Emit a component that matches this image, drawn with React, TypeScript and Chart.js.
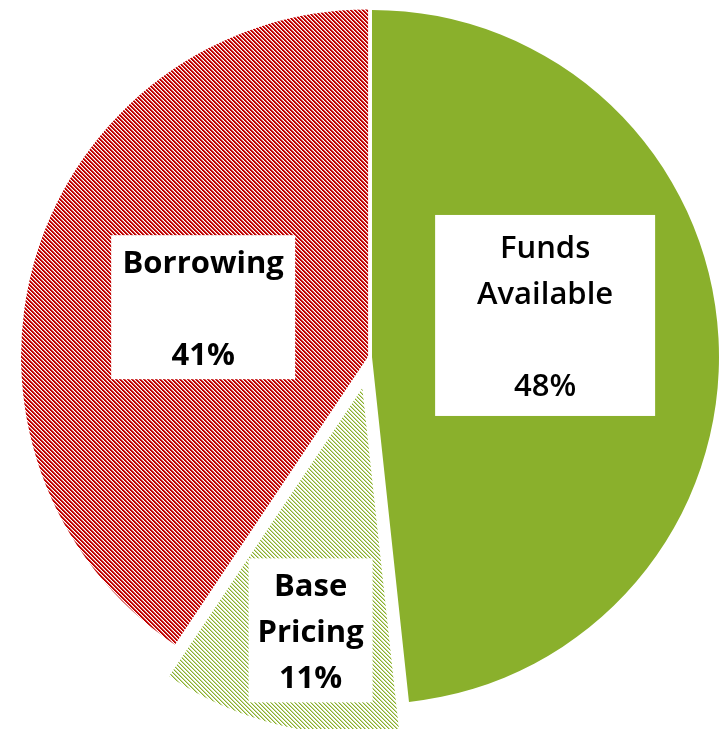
import React, { useEffect, useRef } from "react";
import { Chart, registerables } from "chart.js";

Chart.register(...registerables);

// ---- data ----
const categories: string[] = ["Funds Available", "Base Pricing", "Borrowing"];
const values: number[] = [48.3, 11.1, 40.6];
const categoryLines: string[][] = [["Funds", "Available"], ["Base", "Pricing"], ["Borrowing"]];

// ---- styles / layout ----
const GREEN = "#8AB02C";
const RED = "#C00000";
const sliceExplode = [2, 32, 2]; // px the slice is pulled out along its mid-angle
const labelLayout = [
  { dist: 0.513, turn: -10.4, w: 220, h: 201, blank: true, weight: 600 },
  { dist: 0.714, turn: -1.8, w: 124, h: 144, blank: false, weight: 700 },
  { dist: 0.496, turn: -0.3, w: 184, h: 144, blank: true, weight: 700 },
];
const LABEL_FAMILY = "31px 'Open Sans', Lato, sans-serif";
const LINE_H = 46;
const TEXT_NUDGE = 3;

function stripePattern(ctx: CanvasRenderingContext2D, color: string, edge: string, full: number) {
  const period = 4;
  const c = document.createElement("canvas");
  c.width = period;
  c.height = period;
  const g = c.getContext("2d")!;
  g.fillStyle = "#ffffff";
  g.fillRect(0, 0, period, period);
  for (let y = 0; y < period; y++) {
    for (let x = 0; x < period; x++) {
      const k = (((x - y) % period) + period) % period;
      if (k < full) {
        g.fillStyle = color;
        g.fillRect(x, y, 1, 1);
      } else if (k === full) {
        g.fillStyle = edge;
        g.fillRect(x, y, 1, 1);
      }
    }
  }
  return ctx.createPattern(c, "repeat")!;
}

const explodePlugin = {
  id: "explode",
  afterDatasetsUpdate(chart: any) {
    const meta = chart.getDatasetMeta(0);
    meta.data.forEach((arc: any, i: number) => {
      const mid = (arc.startAngle + arc.endAngle) / 2;
      arc.x += Math.cos(mid) * sliceExplode[i];
      arc.y += Math.sin(mid) * sliceExplode[i];
    });
  },
};

const labelPlugin = {
  id: "boxLabels",
  afterDatasetsDraw(chart: any) {
    const ctx: CanvasRenderingContext2D = chart.ctx;
    const meta = chart.getDatasetMeta(0);
    const total = values.reduce((a, b) => a + b, 0);
    meta.data.forEach((arc: any, i: number) => {
      const p = arc.getProps(["x", "y", "startAngle", "endAngle", "outerRadius"], true);
      const L = labelLayout[i];
      const mid = (p.startAngle + p.endAngle) / 2 + (L.turn * Math.PI) / 180;
      const cx = p.x + Math.cos(mid) * p.outerRadius * L.dist;
      const cy = p.y + Math.sin(mid) * p.outerRadius * L.dist;
      const pct = Math.round((values[i] / total) * 100) + "%";
      const lines = [...categoryLines[i], ...(L.blank ? [""] : []), pct];
      ctx.save();
      ctx.fillStyle = "#ffffff";
      ctx.fillRect(cx - L.w / 2, cy - L.h / 2, L.w, L.h);
      ctx.fillStyle = "#000000";
      ctx.font = `${L.weight} ${LABEL_FAMILY}`;
      ctx.textAlign = "center";
      ctx.textBaseline = "middle";
      const top = cy - (lines.length * LINE_H) / 2 + LINE_H / 2 + TEXT_NUDGE;
      lines.forEach((t, j) => {
        if (t) ctx.fillText(t, cx, top + j * LINE_H);
      });
      ctx.restore();
    });
  },
};

export default function App() {
  const ref = useRef<HTMLCanvasElement | null>(null);
  useEffect(() => {
    document.body.style.margin = "0";
    const canvas = ref.current!;
    const ctx = canvas.getContext("2d")!;
    const greenStripes = stripePattern(ctx, GREEN, "#C8DA9C", 1);
    const redStripes = stripePattern(ctx, RED, "#E08080", 2);
    const chart = new Chart(canvas, {
      type: "pie",
      data: {
        labels: categories,
        datasets: [
          {
            data: values,
            backgroundColor: [GREEN, greenStripes, redStripes],
            borderWidth: 0,
            radius: 347,
          } as any,
        ],
      },
      options: {
        animation: false,
        responsive: true,
        maintainAspectRatio: false,
        events: [],
        layout: { padding: { left: 18, right: 0, top: 0, bottom: 15 } },
        plugins: { legend: { display: false }, tooltip: { enabled: false } },
      },
      plugins: [explodePlugin, labelPlugin],
    });
    return () => chart.destroy();
  }, []);
  return (
    <div style={{ position: "absolute", left: 0, top: 0, width: 722, height: 729, background: "#fff" }}>
      <canvas ref={ref} />
    </div>
  );
}
